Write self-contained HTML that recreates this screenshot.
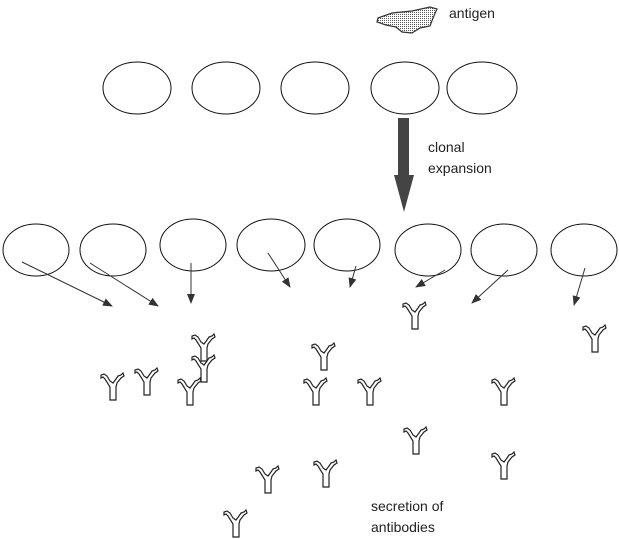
<!DOCTYPE html>
<html><head><style>body{margin:0;background:#fff}svg{display:block}</style></head><body>
<svg width="619" height="539" xmlns="http://www.w3.org/2000/svg" font-family="Liberation Sans, sans-serif">
<defs>
<pattern id="dots" width="2" height="2" patternUnits="userSpaceOnUse"><rect width="2" height="2" fill="#fff"/><rect width="1" height="1" fill="#555"/></pattern>
<marker id="ah" markerWidth="10" markerHeight="8" refX="9" refY="4" orient="auto" markerUnits="userSpaceOnUse"><path d="M0,0 L10,4 L0,8 Z" fill="#333"/></marker>
<g id="ab"><path d="M-3,27 L-3,14 L-8,6 L-10,4 L-12,5 L-12,2 L-9,1 L-6,3 L-3,8 L0,10 L3,6 L5,3 L8,2 L10,0 L11,3 L8,5 L4,10 L3,14 L3,27 Z" fill="#fff" stroke="#222" stroke-width="1.2"/></g>
</defs>
<path d="M378,18 L392,13 L412,11 L430,7 L437,9 L433,18 L430,26 L420,28 L412,33 L402,32 L396,27 L386,25 L377,22 Z" fill="url(#dots)" stroke="#333" stroke-width="1.2"/>
<text x="449" y="18" font-size="14" fill="#222">antigen</text>
<g fill="none" stroke="#111" stroke-width="1">
<ellipse cx="137" cy="88" rx="34" ry="26"/><ellipse cx="226" cy="88" rx="34" ry="26"/><ellipse cx="315" cy="88" rx="34" ry="26"/><ellipse cx="405" cy="88" rx="34" ry="26"/><ellipse cx="482" cy="88" rx="35" ry="26"/>
<ellipse cx="36" cy="250" rx="33" ry="26"/><ellipse cx="113" cy="250" rx="33" ry="26"/><ellipse cx="193" cy="245" rx="33" ry="26"/><ellipse cx="271" cy="245" rx="34" ry="26"/><ellipse cx="347" cy="245" rx="33" ry="26"/><ellipse cx="428" cy="250" rx="33" ry="26"/><ellipse cx="504" cy="250" rx="33" ry="26"/><ellipse cx="584" cy="250" rx="33" ry="26"/>
</g>
<path d="M398,118 L409,118 L409,175 L414,175 L404,212 L394,175 L398,175 Z" fill="#444"/>
<text x="428" y="152" font-size="14" fill="#222">clonal</text>
<text x="428" y="173" font-size="14" fill="#222">expansion</text>
<g stroke="#333" stroke-width="1" marker-end="url(#ah)">
<line x1="22" y1="262" x2="112" y2="306"/><line x1="90" y1="263" x2="158" y2="306"/><line x1="191" y1="263" x2="191" y2="303"/><line x1="268" y1="253" x2="290" y2="287"/><line x1="356" y1="266" x2="350" y2="287"/><line x1="445" y1="270" x2="416" y2="287"/><line x1="508" y1="270" x2="472" y2="303"/><line x1="585" y1="268" x2="574" y2="305"/>
</g>
<use href="#ab" x="113" y="373"/><use href="#ab" x="147" y="368"/><use href="#ab" x="190" y="378"/><use href="#ab" x="204" y="334"/><use href="#ab" x="204" y="355"/><use href="#ab" x="324" y="343"/><use href="#ab" x="316" y="378"/><use href="#ab" x="370" y="378"/><use href="#ab" x="415" y="302"/><use href="#ab" x="416" y="427"/><use href="#ab" x="504" y="378"/><use href="#ab" x="504" y="452"/><use href="#ab" x="595" y="325"/><use href="#ab" x="326" y="460"/><use href="#ab" x="268" y="466"/><use href="#ab" x="236" y="510"/>
<text x="371" y="511" font-size="14" fill="#222">secretion of</text>
<text x="371" y="532" font-size="14" fill="#222">antibodies</text>
</svg>
</body></html>
